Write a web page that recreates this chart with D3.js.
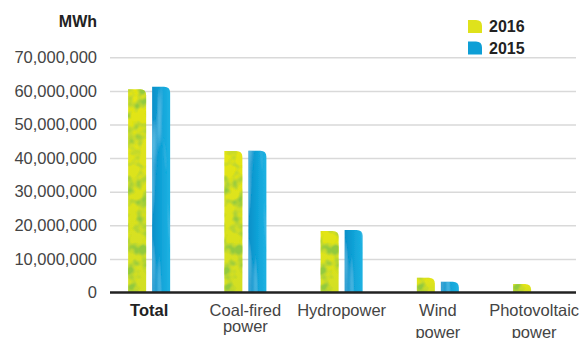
<!DOCTYPE html>
<html>
<head>
<meta charset="utf-8">
<script src="https://cdn.jsdelivr.net/npm/d3@7"></script>
<style>
  body { margin: 0; background: #fff; }
  text { font-family: "Liberation Sans", Arial, sans-serif; }
</style>
</head>
<body>
<div id="chart"></div>
<script>
// data (MWh)
var categories = ["Total", "Coal-fired power", "Hydropower", "Wind power", "Photovoltaic power"];
var labelLines = [["Total"], ["Coal-fired", "power"], ["Hydropower"], ["Wind", "power"], ["Photovoltaic", "power"]];
var years = ["2016", "2015"];
var values2016 = [60500000, 42100000, 18300000, 4400000, 2500000];
var values2015 = [61200000, 42200000, 18600000, 3200000, 0];
var yTicks = [0, 10000000, 20000000, 30000000, 40000000, 50000000, 60000000, 70000000];

var W = 583, H = 338;
var plotLeft = 110, plotRight = 576, baseY = 292.5;
// second-line spacing of the category labels differs in the original
var lineGap = [16, 16, 16, 21.5, 21.5];

var svg = d3.select("#chart").append("svg")
    .attr("width", W)
    .attr("height", H);

/** textures for the bars */
var defs = svg.append("defs");

function texture(id, freq, seed, matrix, color) {
  var f = defs.append("filter").attr("id", id)
      .attr("x", 0).attr("y", 0).attr("width", 1).attr("height", 1);
  f.append("feTurbulence").attr("type", "fractalNoise")
      .attr("baseFrequency", freq).attr("numOctaves", 2).attr("seed", seed).attr("result", "n");
  f.append("feColorMatrix").attr("in", "n").attr("type", "matrix")
      .attr("values", matrix).attr("result", "a");
  f.append("feFlood").attr("flood-color", color).attr("result", "g");
  f.append("feComposite").attr("in", "g").attr("in2", "a").attr("operator", "in").attr("result", "ga");
  f.append("feComposite").attr("in", "ga").attr("in2", "SourceAlpha").attr("operator", "in").attr("result", "gc");
  var m = f.append("feMerge");
  m.append("feMergeNode").attr("in", "SourceGraphic");
  m.append("feMergeNode").attr("in", "gc");
}
texture("mottle16", "0.09", 4, "0 0 0 0 0  0 0 0 0 0  0 0 0 0 0  3.5 0 0 0 -1.5", "#93ca3e");
texture("streak15", "0.1 0.012", 7, "0 0 0 0 0  0 0 0 0 0  0 0 0 0 0  2.5 0 0 0 -1.35", "#6fd0f0");

var g16 = defs.append("linearGradient").attr("id", "grad16")
    .attr("x1", 0).attr("y1", 0).attr("x2", 0).attr("y2", 1);
g16.append("stop").attr("offset", "0%").attr("stop-color", "#e4e516");
g16.append("stop").attr("offset", "100%").attr("stop-color", "#d2df24");

var g15 = defs.append("linearGradient").attr("id", "grad15")
    .attr("x1", 0).attr("y1", 0).attr("x2", 1).attr("y2", 0);
g15.append("stop").attr("offset", "0%").attr("stop-color", "#0a8fc8");
g15.append("stop").attr("offset", "60%").attr("stop-color", "#12a6da");
g15.append("stop").attr("offset", "100%").attr("stop-color", "#1fb2e2");

var fills = { "2016": "url(#grad16)", "2015": "url(#grad15)" };
var filters = { "2016": "url(#mottle16)", "2015": "url(#streak15)" };
var legendColor = { "2016": "#dfe21b", "2015": "#0e9fd6" };

/** scales */
var y = d3.scaleLinear()
    .domain([0, 70000000])
    .range([baseY, 57.3]);

var x = d3.scaleBand()
    .domain(categories)
    .range([101, 582.25]);

var xInner = d3.scaleBand()
    .domain(years)
    .range([-21, 21])
    .paddingInner(0.25);

/** gridlines + y labels */
var yAxis = svg.append("g")
    .attr("transform", "translate(" + plotLeft + ",0)")
    .call(d3.axisLeft(y).tickValues(yTicks).tickSize(-(plotRight - plotLeft)).tickPadding(13)
      .tickFormat(d3.format(",")));
yAxis.select(".domain").remove();
yAxis.selectAll(".tick line")
    .attr("stroke", "#d9d9d9")
    .attr("stroke-width", 1.5)
    .filter(function(d) { return d === 0; }).remove();
yAxis.selectAll(".tick text")
    .attr("fill", "#444")
    .style("font-size", "16.5px");

svg.append("text")
    .attr("x", 97)
    .attr("y", 27)
    .attr("text-anchor", "end")
    .attr("fill", "#222")
    .style("font-size", "16px")
    .style("font-weight", "bold")
    .text("MWh");

/** bar shape with a rounded top-right corner */
function barPath(x0, w, yTop, yBottom, r) {
  var h = yBottom - yTop;
  r = Math.min(r, h, w);
  return "M" + x0 + "," + yBottom +
    "V" + yTop +
    "H" + (x0 + w - r) +
    "Q" + (x0 + w) + "," + yTop + " " + (x0 + w) + "," + (yTop + r) +
    "V" + yBottom + "Z";
}

var rows = categories.map(function(c, i) {
  return { cat: c, values: [{ year: "2016", value: values2016[i] }, { year: "2015", value: values2015[i] }] };
});

svg.selectAll("g.cat")
  .data(rows)
  .enter()
  .append("g")
    .attr("class", "cat")
    .attr("transform", function(d) { return "translate(" + (x(d.cat) + x.bandwidth() / 2) + ",0)"; })
  .selectAll("path")
  .data(function(d) { return d.values.filter(function(v) { return v.value > 0; }); })
  .enter()
  .append("path")
    .attr("d", function(d) { return barPath(xInner(d.year), xInner.bandwidth(), y(d.value), baseY, 6); })
    .attr("fill", function(d) { return fills[d.year]; })
    .attr("filter", function(d) { return filters[d.year]; });

/** baseline */
svg.append("line")
    .attr("x1", plotLeft)
    .attr("x2", plotRight)
    .attr("y1", baseY)
    .attr("y2", baseY)
    .attr("stroke", "#222")
    .attr("stroke-width", 2.5);

/** category labels */
var labels = svg.selectAll("text.cat")
  .data(labelLines)
  .enter()
  .append("text")
    .attr("class", "cat")
    .attr("text-anchor", "middle")
    .attr("fill", function(d, i) { return i === 0 ? "#222" : "#444"; })
    .style("font-weight", function(d, i) { return i === 0 ? "bold" : "normal"; })
    .style("font-size", "16.5px")
    .attr("transform", function(d, i) { return "translate(" + (x(categories[i]) + x.bandwidth() / 2) + ",316)"; });
labels.each(function(lines, i) {
  d3.select(this).selectAll("tspan")
    .data(lines)
    .enter()
    .append("tspan")
      .attr("x", 0)
      .attr("y", function(d, j) { return j * lineGap[i]; })
      .text(function(d) { return d; });
});

/** legend */
var legend = svg.selectAll("g.legend")
  .data(years)
  .enter()
  .append("g")
    .attr("class", "legend")
    .attr("transform", function(d, i) { return "translate(468," + (20 + i * 21.5) + ")"; });
legend.append("path")
    .attr("d", barPath(0, 14, 0, 13, 6))
    .attr("fill", function(d) { return legendColor[d]; });
legend.append("text")
    .attr("x", 21)
    .attr("y", 12)
    .attr("fill", "#222")
    .style("font-size", "16px")
    .style("font-weight", "bold")
    .text(function(d) { return d; });
</script>
</body>
</html>
